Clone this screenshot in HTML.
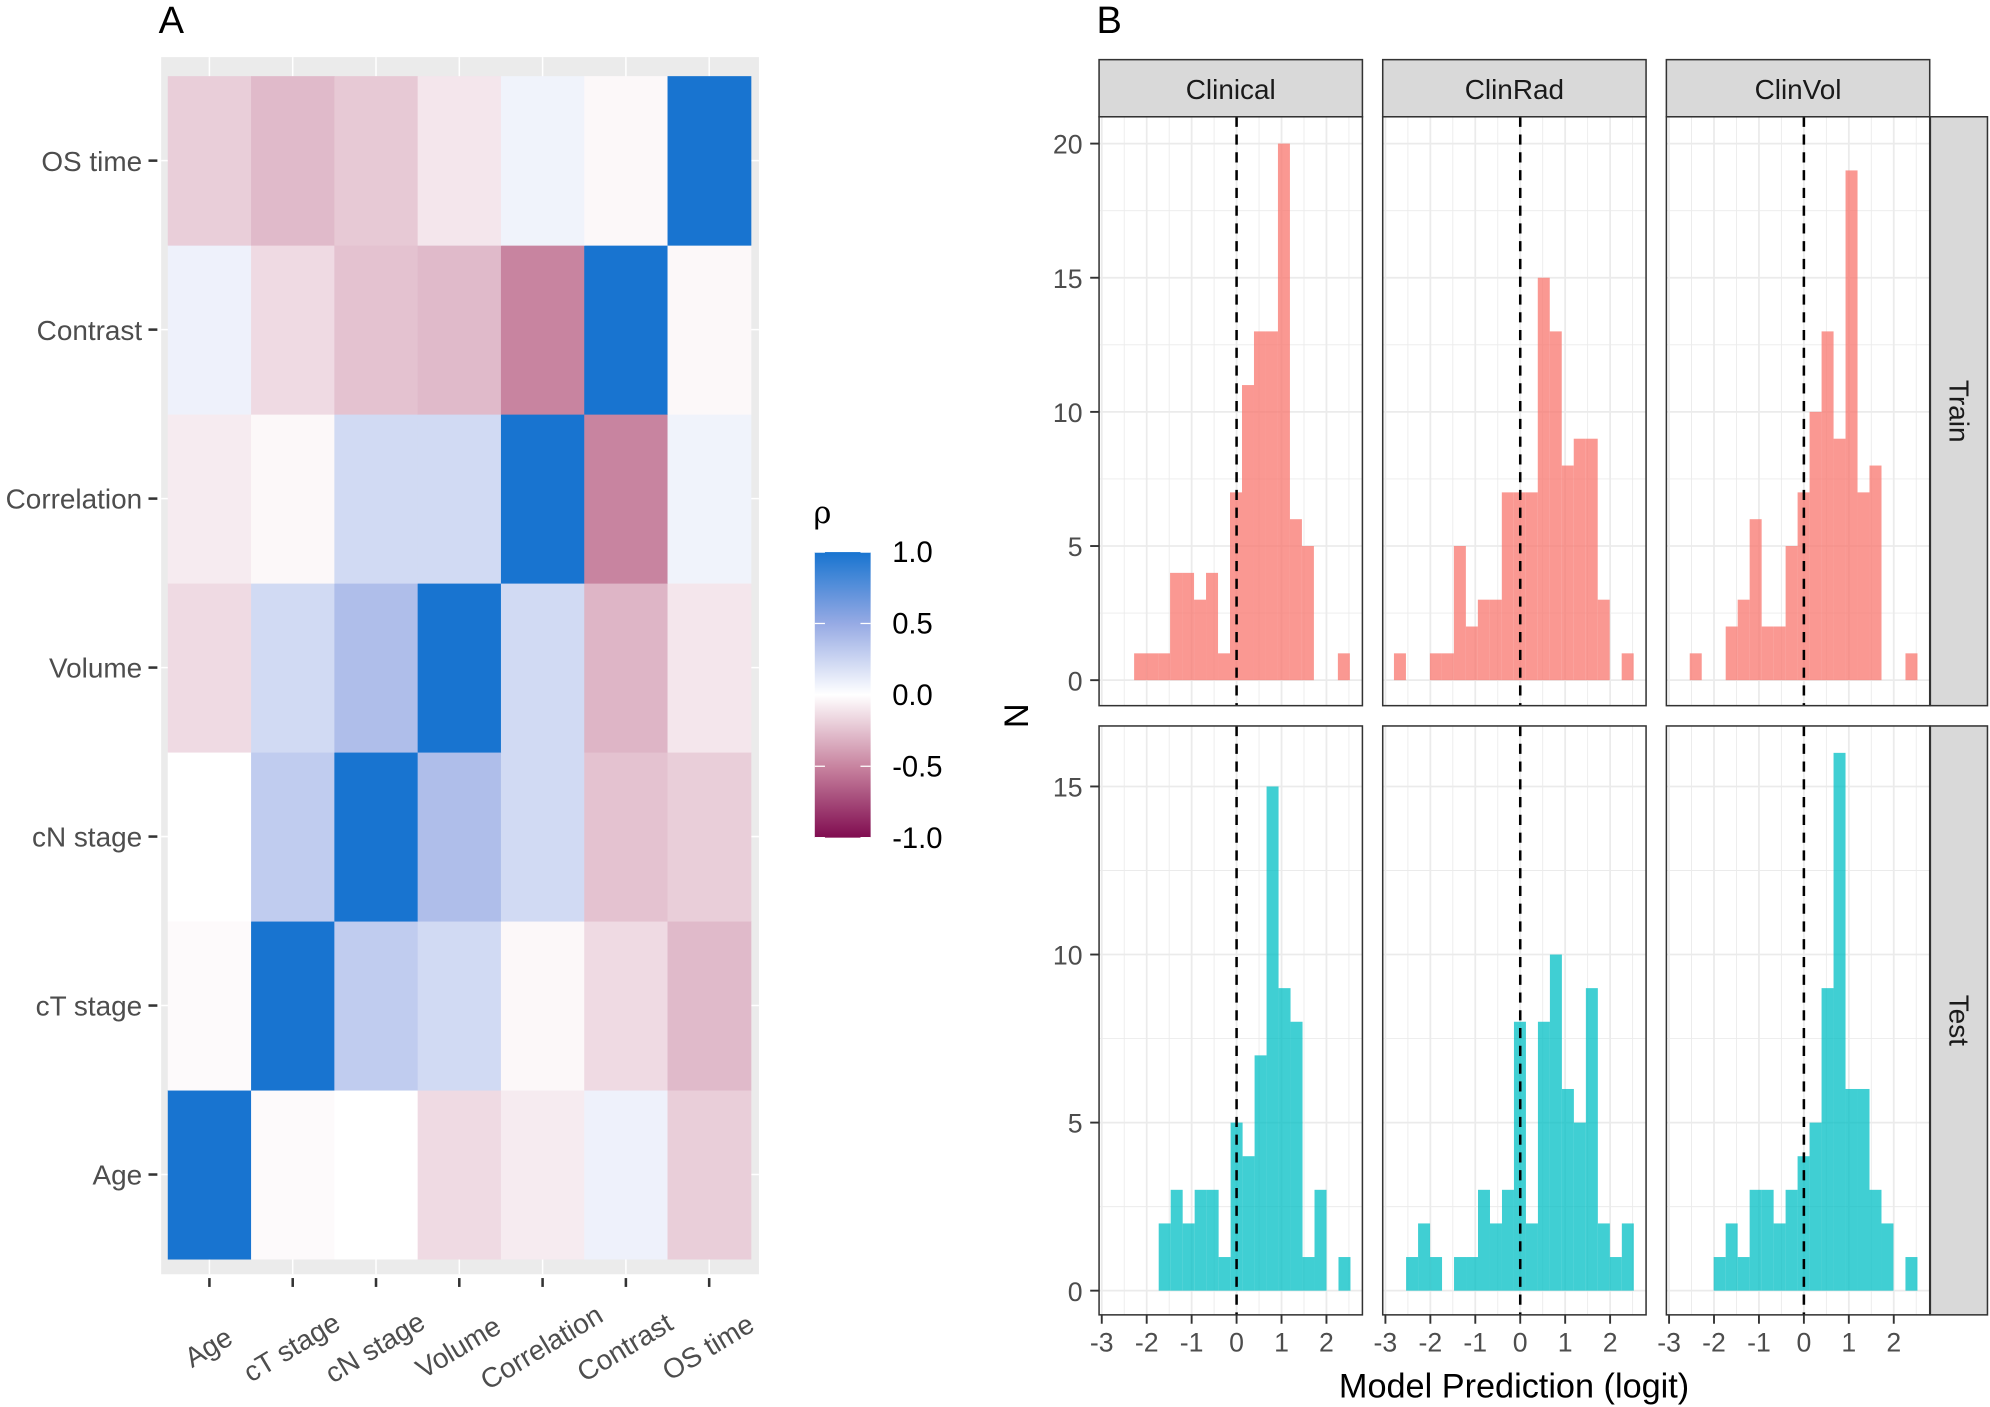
<!DOCTYPE html>
<html><head><meta charset="utf-8"><style>
html,body{margin:0;padding:0;background:#fff}
svg{display:block;font-family:"Liberation Sans",Arial,sans-serif}
</style></head><body>
<svg id="fig" width="1990" height="1407" viewBox="0 0 1568 1108.6" preserveAspectRatio="none" xmlns="http://www.w3.org/2000/svg">
<text x="125" y="26" font-size="30" fill="#000">A</text>
<text x="864" y="26" font-size="30" fill="#000">B</text>
<g id="heat"></g>
<g id="legend"></g>
<g id="hist"></g>
</svg>
<script>
// ---------- Panel A data ----------
const vars = ["Age","cT stage","cN stage","Volume","Correlation","Contrast","OS time"];
const rowAge   = [1.00,-0.02, 0.00,-0.15,-0.08, 0.08,-0.20];
const rowCT    = [-0.02,1.00, 0.30, 0.22,-0.03,-0.15,-0.28];
const rowCN    = [0.00, 0.30, 1.00, 0.38, 0.22,-0.25,-0.20];
const rowVol   = [-0.15,0.22, 0.38, 1.00, 0.22,-0.30,-0.10];
const rowCorr  = [-0.08,-0.03,0.22, 0.22, 1.00,-0.50, 0.07];
const rowCon   = [0.08,-0.15,-0.25,-0.28,-0.50, 1.00,-0.03];
const rowOS    = [-0.20,-0.28,-0.22,-0.10,0.07,-0.03, 1.00];
const legendTicks = [1.0,0.5,0.0,-0.5,-1.0];

// ---------- Panel B data ----------
const models = ["Clinical","ClinRad","ClinVol"];
const sets = ["Train","Test"];
const binWidth = 0.2667;
const trainStart = [-2.28,-2.81,-2.54];
const testStart  = [-1.733,-2.54,-2.007];
const trainClinical = [1,1,1,4,4,3,4,1,7,11,13,13,20,6,5,0,0,1];
const trainClinRad  = [1,0,0,1,1,5,2,3,3,7,7,7,15,13,8,9,9,3,0,1];
const trainClinVol  = [1,0,0,2,3,6,2,2,5,7,10,13,9,19,7,8,0,0,1];
const testClinical  = [2,3,2,3,3,1,5,4,7,15,9,8,1,3,0,1];
const testClinRad   = [1,2,1,0,1,1,3,2,3,8,2,8,10,6,5,9,2,1,2];
const testClinVol   = [1,2,1,3,3,2,3,4,5,9,16,6,6,3,2,0,1];
const xTicks = [-3,-2,-1,0,1,2];
const yTicksTrain = [0,5,10,15,20];
const yTicksTest = [0,5,10,15];

const NS="http://www.w3.org/2000/svg";
function mk(tag, attrs, parent, txt){
  const e=document.createElementNS(NS,tag);
  for(const k in attrs) e.setAttribute(k,attrs[k]);
  if(txt!==undefined) e.textContent=txt;
  parent.appendChild(e); return e;
}
const matrix=[rowAge,rowCT,rowCN,rowVol,rowCorr,rowCon,rowOS];
function mix(a,b,t){return [0,1,2].map(i=>Math.round(a[i]+(b[i]-a[i])*t));}
function col(v){
  const w=[255,255,255];
  const pm=[150,170,228], pe=[24,116,208];
  const nm=[200,132,160], ne=[128,12,80];
  const t=Math.min(1,Math.abs(v));
  const m=v>=0?pm:nm, e=v>=0?pe:ne;
  const c=t<=0.5?mix(w,m,t/0.5):mix(m,e,(t-0.5)/0.5);
  return `rgb(${c[0]},${c[1]},${c[2]})`;
}
// ---------- Heatmap ----------
const heat=document.getElementById('heat');
const hx0=132.2, hx1=591.6, hy0=60, hy1=992;
const cw=(hx1-hx0)/vars.length, ch=(hy1-hy0)/vars.length;
const xc=i=>hx0+cw*(i+0.5);
const yc=i=>hy1-ch*(i+0.5);
let bg=mk('rect',{x:127,y:45,width:471,height:959,fill:'#EBEBEB'},heat);


for(let i=0;i<vars.length;i++){
  let g1=mk('line',{x1:xc(i),x2:xc(i),y1:45,y2:1004,stroke:'#fff','stroke-width':1.2},heat);
  
  
  let g2=mk('line',{x1:127,x2:598,y1:yc(i),y2:yc(i),stroke:'#fff','stroke-width':1.2},heat);
  
  
}
for(let r=0;r<vars.length;r++){
  for(let c=0;c<vars.length;c++){
    const rc=mk('rect',{x:hx0+cw*c,y:hy1-ch*(r+1),width:cw+0.4,height:ch+0.4,fill:col(matrix[r][c])},heat);
    
    
  }
}
for(let i=0;i<vars.length;i++){
  const t1=mk('line',{x1:117,x2:124,y1:yc(i),y2:yc(i),stroke:'#333','stroke-width':2},heat);
  
  
  const l1=mk('text',{x:112,y:yc(i)+8,'text-anchor':'end','font-size':22,fill:'#4D4D4D'},heat,vars[i]);
  
  
  const t2=mk('line',{x1:xc(i),x2:xc(i),y1:1007,y2:1014,stroke:'#333','stroke-width':2},heat);
  
  
  const ax=xc(i)+3, ay=1068;
  const l2=mk('text',{x:ax,y:ay,'text-anchor':'middle','font-size':22,fill:'#4D4D4D',transform:`rotate(-31 ${ax} ${ay})`},heat,vars[i]);
  
  
}
// ---------- Legend ----------
const leg=document.getElementById('legend');
const defs=mk('defs',{},leg);
const gr=mk('linearGradient',{id:'rg',x1:0,y1:0,x2:0,y2:1},defs);
for(let k=0;k<=20;k++){const v=1-k/10; mk('stop',{offset:(k/20),'stop-color':col(v)},gr);}
const lx=642, ly0=435, ly1=660;
const lt=mk('text',{x:641,y:412,'font-size':24,fill:'#000','font-family':'"DejaVu Serif",serif'},leg,'ρ');


const lb=mk('rect',{x:lx,y:ly0,width:44,height:ly1-ly0,fill:'url(#rg)'},leg);


const ly=v=>ly0+(1-v)/2*(ly1-ly0);
legendTicks.forEach(v=>{
  mk('line',{x1:lx,x2:lx+8,y1:ly(v),y2:ly(v),stroke:'#fff','stroke-width':1},leg);
  mk('line',{x1:lx+36,x2:lx+44,y1:ly(v),y2:ly(v),stroke:'#fff','stroke-width':1},leg);
  const t=mk('text',{x:703,y:ly(v)+8,'font-size':23,fill:'#000'},leg,v.toFixed(1));
  
  
});
// ---------- Histograms ----------
const hist=document.getElementById('hist');
const counts=[[trainClinical,trainClinRad,trainClinVol],[testClinical,testClinRad,testClinVol]];
const starts=[trainStart,testStart];
const panelLeft=[866,1089.5,1313], pw=207.5;
const xmin=-3.06, xmax=2.8;
const rows=[{top:92,bot:556,ymin:-0.95,ymax:21.0,ticks:yTicksTrain},{top:572,bot:1036,ymin:-0.72,ymax:16.8,ticks:yTicksTest}];
const fills=['#F8766D','#00BFC4'];
for(let r=0;r<2;r++){
  const R=rows[r];
  const yS=v=>R.bot-(v-R.ymin)/(R.ymax-R.ymin)*(R.bot-R.top);
  for(let p=0;p<3;p++){
    const L=panelLeft[p];
    const xS=v=>L+(v-xmin)/(xmax-xmin)*pw;
    const g=mk('g',{},hist);
    
    
    mk('rect',{x:L,y:R.top,width:pw,height:R.bot-R.top,fill:'#fff'},g);
    for(let v=-3;v<=2.5;v+=0.5){
      const major=Number.isInteger(v);
      mk('line',{x1:xS(v),x2:xS(v),y1:R.top,y2:R.bot,stroke:'#EBEBEB','stroke-width':major?1.4:0.7},g);
    }
    const ymaxT=R.ticks[R.ticks.length-1];
    for(let v=0;v<=ymaxT+2.5;v+=2.5){
      if(v>R.ymax) break;
      const major=(v%5===0);
      mk('line',{x1:L,x2:L+pw,y1:yS(v),y2:yS(v),stroke:'#EBEBEB','stroke-width':major?1.4:0.7},g);
    }
    const cts=counts[r][p], s0=starts[r][p];
    cts.forEach((c,i)=>{
      if(c<=0) return;
      const x0=s0+i*binWidth;
      const b=mk('rect',{x:xS(x0),y:yS(c),width:xS(x0+binWidth)-xS(x0),height:yS(0)-yS(c),fill:fills[r],'fill-opacity':0.75},g);
      
      
    });
    const dl=mk('line',{x1:xS(0),x2:xS(0),y1:R.top,y2:R.bot,stroke:'#000','stroke-width':2,'stroke-dasharray':'8,6'},g);
    
    
    mk('rect',{x:L,y:R.top,width:pw,height:R.bot-R.top,fill:'none',stroke:'#333','stroke-width':1.2},g);
    if(r===0){
      const st=mk('rect',{x:L,y:47,width:pw,height:45,fill:'#D9D9D9',stroke:'#333','stroke-width':1.2},hist);
      
      
      const sl=mk('text',{x:L+pw/2,y:78,'text-anchor':'middle','font-size':22,fill:'#1A1A1A'},hist,models[p]);
      
      
    }
    if(p===0){
      R.ticks.forEach(v=>{
        mk('line',{x1:859,x2:866,y1:yS(v),y2:yS(v),stroke:'#333','stroke-width':1.5},hist);
        const t=mk('text',{x:853,y:yS(v)+8,'text-anchor':'end','font-size':21,fill:'#4D4D4D'},hist,String(v));
        
        
      });
    }
    if(r===1){
      xTicks.forEach(v=>{
        mk('line',{x1:xS(v),x2:xS(v),y1:1036,y2:1043,stroke:'#333','stroke-width':1.5},hist);
        const t=mk('text',{x:xS(v),y:1065,'text-anchor':'middle','font-size':21,fill:'#4D4D4D'},hist,String(v));
        
        
      });
    }
  }
  const rs=mk('rect',{x:1521,y:R.top,width:45,height:R.bot-R.top,fill:'#D9D9D9',stroke:'#333','stroke-width':1.2},hist);
  
  
  const cy=(R.top+R.bot)/2;
  const rl=mk('text',{x:1536,y:cy,'text-anchor':'middle','font-size':22,fill:'#1A1A1A',transform:`rotate(90 1536 ${cy})`},hist,sets[r]);
  
  
}
const yt=mk('text',{x:810,y:564,'text-anchor':'middle','font-size':27,fill:'#000',transform:'rotate(-90 810 564)'},hist,'N');


const xt=mk('text',{x:1193,y:1101,'text-anchor':'middle','font-size':27,fill:'#000'},hist,'Model Prediction (logit)');


</script>
</body></html>
